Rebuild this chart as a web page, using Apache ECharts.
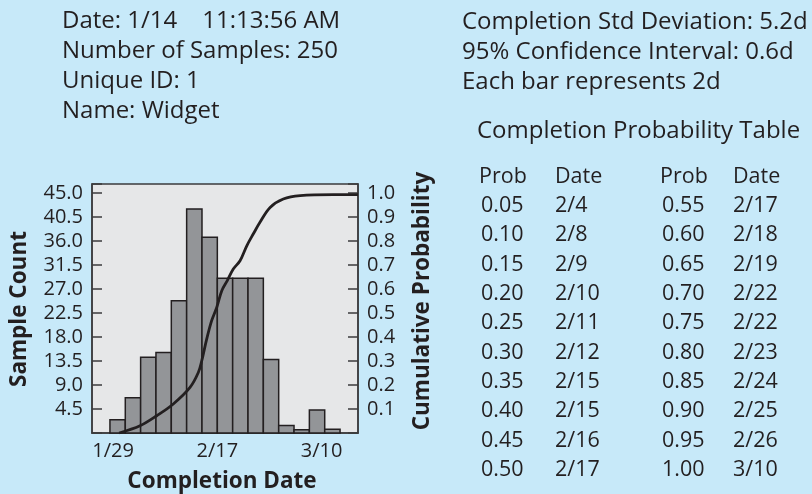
<!DOCTYPE html>
<html>
<head>
<meta charset="utf-8">
<script src="https://cdn.jsdelivr.net/npm/echarts@6/dist/echarts.min.js"></script>
<style>
  html, body { margin: 0; padding: 0; background: #c7e9f9; }
  #chart { width: 812px; height: 494px; }
</style>
</head>
<body>
<div id="chart"></div>
<script>
// Histogram of simulated completion dates: one bin per bar (each bar = 2d)
const sampleCounts = [2.5, 6.6, 14.2, 15.1, 24.8, 42.0, 36.7, 29.0, 29.0, 29.0, 13.8, 1.4, 0.6, 4.3, 0.7];

// Date tick labels and the bin position each sits at
const dateLabels = ['1/29', '2/17', '3/10'];
const dateLabelBins = [0.2, 7.0, 13.8];

// Cumulative probability curve: [bin position, probability]
const cumulative = [
  [0.6, 0.0], [1.96, 0.03], [3.05, 0.072], [4.13, 0.121], [5.22, 0.19],
  [5.76, 0.252], [5.98, 0.30], [6.31, 0.392], [6.63, 0.468], [6.96, 0.523],
  [7.29, 0.593], [7.65, 0.635], [8.04, 0.683], [8.48, 0.718], [8.92, 0.78],
  [9.35, 0.83], [9.78, 0.878], [10.44, 0.94], [11.3, 0.975], [12.4, 0.989],
  [14.57, 0.993], [16.17, 0.993]
];

// Left axis ticks (Sample Count) and right axis ticks (Cumulative Probability)
const countStep = 4.5;
const countTopTick = 45.0;
const probStep = 0.1;

// Summary text
const summaryLeft = ['Date: 1/14    11:13:56 AM', 'Number of Samples: 250', 'Unique ID: 1', 'Name: Widget'];
const summaryRight = ['Completion Std Deviation: 5.2d', '95% Confidence Interval: 0.6d', 'Each bar represents 2d'];
const tableTitle = 'Completion Probability Table';

// Completion probability table
const tableProbs = ['0.05','0.10','0.15','0.20','0.25','0.30','0.35','0.40','0.45','0.50',
                    '0.55','0.60','0.65','0.70','0.75','0.80','0.85','0.90','0.95','1.00'];
const tableDates = ['2/4','2/8','2/9','2/10','2/11','2/12','2/15','2/15','2/16','2/17',
                    '2/17','2/18','2/19','2/22','2/22','2/23','2/24','2/25','2/26','3/10'];

const INK = '#231f20';
const FRAME = '#3b3b3d';
const FONT = "'Open Sans', 'Noto Sans', sans-serif";

const chart = echarts.init(document.getElementById('chart'), null, { renderer: 'canvas' });

function txt(x, y, text, opts) {
  opts = opts || {};
  return {
    type: 'text',
    x: x, y: y,
    rotation: opts.rotation || 0,
    style: {
      text: text,
      fill: INK,
      font: (opts.weight || 'normal') + ' ' + (opts.size || 21.5) + 'px ' + FONT,
      align: opts.align || 'left',
      verticalAlign: 'middle'
    }
  };
}

const graphics = [];
summaryLeft.forEach((s, i) => graphics.push(txt(62, 21.5 + i * 30, s, { size: 24 })));
summaryRight.forEach((s, i) => graphics.push(txt(462, 21.7 + i * 30, s, { size: 24 })));
graphics.push(txt(477, 131, tableTitle, { size: 24 }));

const colX = [[481, 555], [662, 733]];
colX.forEach(c => {
  graphics.push(txt(c[0] - 2, 177, 'Prob'));
  graphics.push(txt(c[1], 177, 'Date'));
});
const rowsPerCol = 10;
tableProbs.forEach((p, i) => {
  const col = Math.floor(i / rowsPerCol);
  const row = i % rowsPerCol;
  const y = 206 + row * 29.3;
  graphics.push(txt(colX[col][0], y, p));
  graphics.push(txt(colX[col][1], y, tableDates[i]));
});

// Axis titles
graphics.push(txt(20, 309, 'Sample Count', { weight: 'bold', size: 22.5, rotation: Math.PI / 2, align: 'center' }));
graphics.push(txt(423, 301, 'Cumulative Probability', { weight: 'bold', size: 22.5, rotation: Math.PI / 2, align: 'center' }));
graphics.push(txt(222, 482, 'Completion Date', { weight: 'bold', size: 22.5, align: 'center' }));

const option = {
  animation: false,
  backgroundColor: '#c7e9f9',
  grid: {
    left: 92, right: 454, top: 184, bottom: 61,
    show: true,
    backgroundColor: '#e6e7e8',
    borderColor: FRAME,
    borderWidth: 1.5
  },
  xAxis: {
    type: 'value',
    min: -1.17,
    max: 16.17,
    splitLine: { show: false },
    axisLine: { show: true, onZero: false, lineStyle: { color: FRAME, width: 1.5 } },
    axisTick: { show: false },
    axisLabel: {
      customValues: dateLabelBins,
      formatter: v => {
        const k = dateLabelBins.findIndex(b => Math.abs(b - v) < 1e-6);
        return k >= 0 ? dateLabels[k] : '';
      },
      color: INK, fontFamily: FONT, fontSize: 20, margin: 8
    }
  },
  yAxis: [
    {
      type: 'value',
      min: 0,
      max: 46.69,
      interval: countStep,
      position: 'left',
      splitLine: { show: false },
      axisLine: { show: true, onZero: false, lineStyle: { color: FRAME, width: 1.5 } },
      axisTick: { show: true, inside: true, length: 10, lineStyle: { color: FRAME, width: 1.5 } },
      axisLabel: {
        formatter: v => (v <= 0 || v > countTopTick + 1e-6) ? '' : v.toFixed(1),
        color: INK, fontFamily: FONT, fontSize: 20, margin: 9
      }
    },
    {
      type: 'value',
      min: 0,
      max: 1.0375,
      interval: probStep,
      position: 'right',
      splitLine: { show: false },
      axisLine: { show: true, onZero: false, lineStyle: { color: FRAME, width: 1.5 } },
      axisTick: { show: true, inside: true, length: 10, lineStyle: { color: FRAME, width: 1.5 } },
      axisLabel: {
        formatter: v => (v <= 0 || v > 1.0001) ? '' : v.toFixed(1),
        color: INK, fontFamily: FONT, fontSize: 20, margin: 9
      }
    }
  ],
  series: [
    {
      type: 'custom',
      name: 'Sample Count',
      yAxisIndex: 0,
      data: sampleCounts.map((c, i) => [i, c]),
      renderItem: (params, api) => {
        const i = api.value(0);
        const top = api.coord([i, api.value(1)]);
        const base = api.coord([i + 1, 0]);
        return {
          type: 'rect',
          shape: { x: top[0], y: top[1], width: base[0] - top[0], height: base[1] - top[1] },
          style: { fill: '#939598', stroke: INK, lineWidth: 1.5 }
        };
      },
      z: 2
    },
    {
      type: 'line',
      name: 'Cumulative Probability',
      yAxisIndex: 1,
      data: cumulative,
      smooth: 0.35,
      symbol: 'none',
      lineStyle: { color: INK, width: 2.8 },
      z: 3
    }
  ],
  graphic: graphics
};

chart.setOption(option);
</script>
</body>
</html>
